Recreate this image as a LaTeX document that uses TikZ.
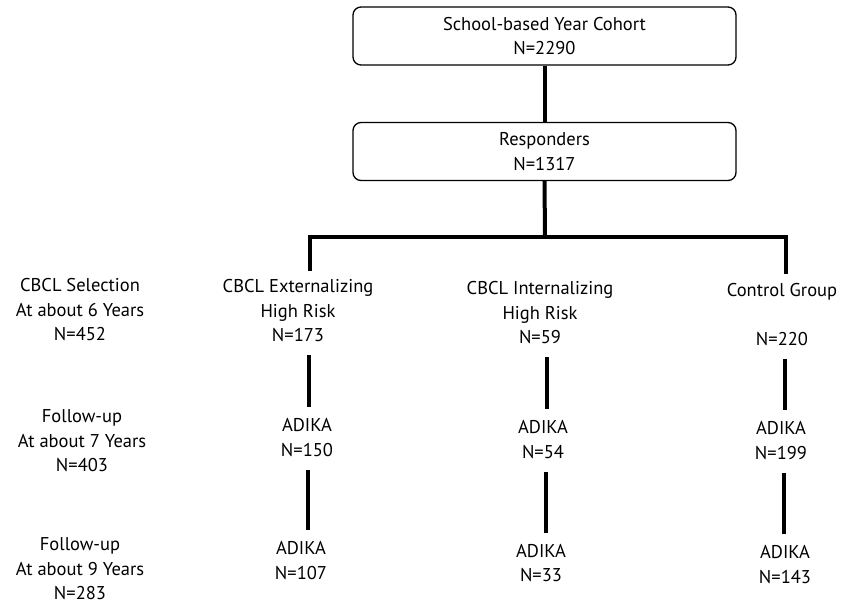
\documentclass[tikz,border=0pt]{standalone}
\usepackage{fontspec}
\setmainfont{PT Sans}
\begin{document}
\begin{tikzpicture}[x=1pt,y=-1pt,
  every node/.style={font=\fontsize{18.5}{24.5}\selectfont, align=center, inner sep=0pt},
  box/.style={draw, line width=1.3pt, rounded corners=8pt, minimum width=383pt, minimum height=58pt},
  tree/.style={line width=4pt},
  seg/.style={line width=4pt, shorten <=13pt, shorten >=11pt}]
\useasboundingbox (0,0) rectangle (853,606);
% boxes
\node[box] (cohort) at (544.5,36) {School-based Year Cohort\\N=2290};
\node[box] (resp) at (544.5,151.5) {Responders\\N=1317};
% left labels
\node (lab1) at (80,310) {CBCL Selection\\At about 6 Years\\N=452};
\node (lab2) at (82,441) {Follow-up\\At about 7 Years\\N=403};
\node (lab3) at (80,569) {Follow-up\\At about 9 Years\\N=283};
% column 1
\node (ext) at (298,311) {CBCL Externalizing\\High Risk\\N=173};
\node (ext2) at (307,437.5) {ADIKA\\N=150};
\node (ext3) at (301,560.5) {ADIKA\\N=107};
% column 2
\node (int) at (540,313) {CBCL Internalizing\\High Risk\\N=59};
\node (int2) at (543,439.5) {ADIKA\\N=54};
\node (int3) at (541,563) {ADIKA\\N=33};
% column 3
\node (ctl) at (782,315) {Control Group\\\mbox{}\\N=220};
\node (ctl2) at (781,440.5) {ADIKA\\N=199};
\node (ctl3) at (785,564.5) {ADIKA\\N=143};
% tree
\coordinate (j) at (545,237);
\coordinate (jl) at (310,237);
\coordinate (jr) at (786,237);
\coordinate (dl) at (310,269);
\coordinate (dr) at (786,272);
\draw[tree] (cohort.south) -- (resp.north);
\draw[tree] (resp.south) -- (j);
\draw[tree,line cap=rect] (dl) -- (jl) -- (jr) -- (dr);
% segments
\draw[seg] (ext.south -| 309,0) -- (ext2.north -| 309,0);
\draw[seg] (ext2.south -| 308,0) -- (ext3.north -| 308,0);
\draw[seg] (int.south -| 547,0) -- (int2.north -| 547,0);
\draw[seg] (int2.south -| 546,0) -- (int3.north -| 546,0);
\draw[seg] (ctl.south -| 785,0) -- (ctl2.north -| 785,0);
\draw[seg] (ctl2.south -| 784,0) -- (ctl3.north -| 784,0);
\end{tikzpicture}
\end{document}
